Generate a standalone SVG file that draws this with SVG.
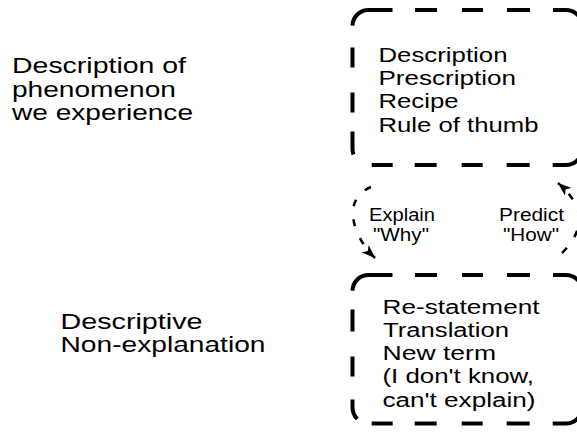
<svg xmlns="http://www.w3.org/2000/svg" width="577" height="432" viewBox="0 0 577 432">
<style>
.t{font-family:"Liberation Sans",Arial,Helvetica,sans-serif;fill:#000}
.big{font-size:22.5px}
.mid{font-size:20px}
.sm{font-size:17.5px}
.box{fill:none;stroke:#000;stroke-width:4;stroke-linecap:butt}
.arc{fill:none;stroke:#000;stroke-width:2.5;stroke-dasharray:7 13}
</style>
<defs>
<marker id="ah" viewBox="0 0 14 10" markerWidth="14" markerHeight="10" refX="13.5" refY="5" orient="auto" markerUnits="userSpaceOnUse">
<path d="M0,0 L14,5 L0,10 L3.5,5 z" fill="#000"/>
</marker>
</defs>
<rect width="577" height="432" fill="#fff"/>
<g id="node-phenomenon">
<text class="t big" x="12" y="73" textLength="174" lengthAdjust="spacingAndGlyphs">Description of</text>
<text class="t big" x="12" y="96.5" textLength="164" lengthAdjust="spacingAndGlyphs">phenomenon</text>
<text class="t big" x="12" y="120" textLength="181" lengthAdjust="spacingAndGlyphs">we experience</text>
</g>
<g id="node-nonexplanation">
<text class="t big" x="60.5" y="329" textLength="142" lengthAdjust="spacingAndGlyphs">Descriptive</text>
<text class="t big" x="60.5" y="352" textLength="205" lengthAdjust="spacingAndGlyphs">Non-explanation</text>
</g>
<g id="node-description-box">
<path class="box" stroke-dasharray="24 22.5 22 25 21 24 23 23 199.26 23 23 24 21 25 22 22 21 22.5 23.1 19 20 25 20 22 25.13 1" d="M368.5,10 H566 A16,16 0 0 1 582,26 V149 A16,16 0 0 1 566,165 H368.5 A16,16 0 0 1 352.5,149 V26 A16,16 0 0 1 368.5,10 Z"/>
<text class="t mid" x="378.5" y="61.5" textLength="129" lengthAdjust="spacingAndGlyphs">Description</text>
<text class="t mid" x="378.5" y="84.5" textLength="137.5" lengthAdjust="spacingAndGlyphs">Prescription</text>
<text class="t mid" x="378.5" y="108" textLength="80" lengthAdjust="spacingAndGlyphs">Recipe</text>
<text class="t mid" x="378.5" y="131.5" textLength="160" lengthAdjust="spacingAndGlyphs">Rule of thumb</text>
</g>
<g id="node-restatement-box">
<path class="box" stroke-dasharray="24 22.5 22 25 21 24 23 23 192.76 23 23 24 21 25 22 22 21 15.5 20.6 23 20 25 22 19 25.13 1" d="M368.5,275 H566 A16,16 0 0 1 582,291 V407.5 A16,16 0 0 1 566,423.5 H368.5 A16,16 0 0 1 352.5,407.5 V291 A16,16 0 0 1 368.5,275 Z"/>
<text class="t mid" x="382.5" y="314" textLength="157" lengthAdjust="spacingAndGlyphs">Re-statement</text>
<text class="t mid" x="383" y="337" textLength="126" lengthAdjust="spacingAndGlyphs">Translation</text>
<text class="t mid" x="382.5" y="360" textLength="113.5" lengthAdjust="spacingAndGlyphs">New term</text>
<text class="t mid" x="382.5" y="383" textLength="151.5" lengthAdjust="spacingAndGlyphs">(I don't know,</text>
<text class="t mid" x="382.5" y="406.5" textLength="153" lengthAdjust="spacingAndGlyphs">can't explain)</text>
</g>
<g id="connectors">
<path class="arc" d="M371,187 C340,200 354,238 375,258" marker-end="url(#ah)"/>
<path class="arc" d="M562,253 C585,230 586,207 558,183" marker-end="url(#ah)"/>
<text class="t sm" x="369" y="221" textLength="66" lengthAdjust="spacingAndGlyphs">Explain</text>
<text class="t sm" x="373" y="241" textLength="56" lengthAdjust="spacingAndGlyphs">"Why"</text>
<text class="t sm" x="499" y="221" textLength="65" lengthAdjust="spacingAndGlyphs">Predict</text>
<text class="t sm" x="503" y="241" textLength="56" lengthAdjust="spacingAndGlyphs">"How"</text>
</g>
</svg>
